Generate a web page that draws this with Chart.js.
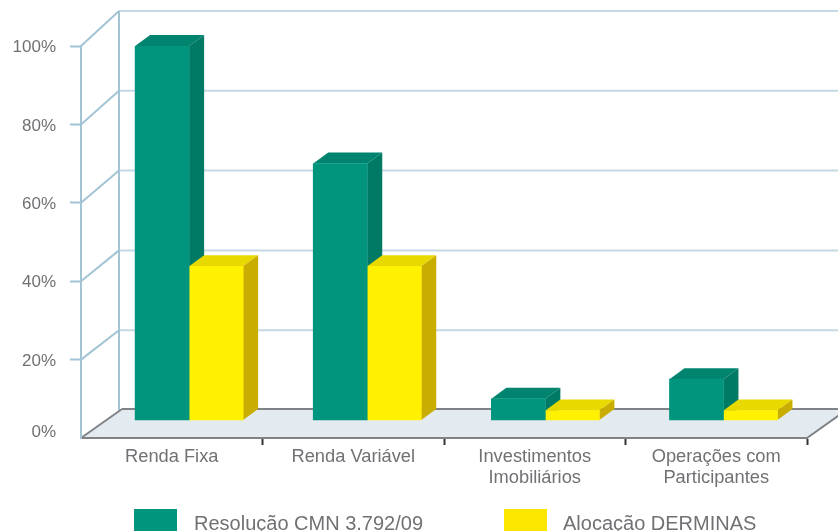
<!DOCTYPE html>
<html>
<head>
<meta charset="utf-8">
<style>
  html, body { margin: 0; padding: 0; background: #fff; overflow: hidden; }
  canvas { display: block; }
</style>
<script src="https://cdn.jsdelivr.net/npm/chart.js@4"></script>
</head>
<body>
<canvas id="chart" width="838" height="531"></canvas>
<script>
// ------------------ Data ------------------
const categories = ["Renda Fixa", "Renda Variável", ["Investimentos", "Imobiliários"], ["Operações com", "Participantes"]];
const seriesNames = ["Resolução CMN 3.792/09", "Alocação DERMINAS"];
const resolucao = [100, 70, 10, 15];
const alocacao = [43.8, 43.8, 7, 7];
const yTicks = [0, 20, 40, 60, 80, 100];
const floorValue = 4.6; // bars stand on the floor, a bit above the front axis line

// ------------------ Look ------------------
const FONT = '"Liberation Sans", Arial, sans-serif';
const TEXT = "#707174";
const WALL = "#a3c4d4";
const GRID = "#c5d8e3";
const GREY = "#808285";
const DEPTH_X = 15, DEPTH_Y = 11;         // bar depth
const WALL_X = 38;                        // front axis -> back wall
const BACK_BOTTOM = 410, BACK_STEP = 3.99; // back wall is slightly taller than the front axis
const green = { front: "#00957c", top: "#00836f", side: "#007a65", legend: "#00957c" };
const yellow = { front: "#fff100", top: "#e8d900", side: "#c9ad00", legend: "#fde600" };

function poly(ctx, pts, fill) {
  ctx.beginPath();
  pts.forEach((p, i) => i ? ctx.lineTo(p[0], p[1]) : ctx.moveTo(p[0], p[1]));
  ctx.closePath();
  ctx.fillStyle = fill;
  ctx.fill();
}

function line(ctx, x1, y1, x2, y2, color, width) {
  ctx.beginPath();
  ctx.moveTo(x1, y1);
  ctx.lineTo(x2, y2);
  ctx.strokeStyle = color;
  ctx.lineWidth = width;
  ctx.stroke();
}

// ------------------ 3D plugin ------------------
const depthPlugin = {
  id: "depth",
  beforeDraw(chart) {
    const ctx = chart.ctx;
    const { left, right, bottom } = chart.chartArea;
    const y = chart.scales.y;
    ctx.save();

    // back wall and side wall
    yTicks.forEach(v => {
      const by = BACK_BOTTOM - v * BACK_STEP;
      if (v > 0) {
        line(ctx, left + WALL_X, by, chart.width, by, GRID, 2);
        line(ctx, left, y.getPixelForValue(v), left + WALL_X, by, WALL, 2);
      }
    });
    line(ctx, left + WALL_X, BACK_BOTTOM - 100 * BACK_STEP, left + WALL_X, BACK_BOTTOM, WALL, 2);

    // floor
    poly(ctx, [[left, bottom], [left + 41, 409], [right + 41, 409], [right, bottom]], "#e3ebf1");
    line(ctx, left + 41, 409, chart.width, 409, GREY, 2);
    line(ctx, left, bottom, left + 41, 409, GREY, 2);
    line(ctx, right, bottom, right + 41, 409, GREY, 2);
    ctx.restore();

    // tick labels sit a bit below their ticks in the original, the 0% one above
    y.getLabelItems().forEach(it => {
      const shift = it.label === "0%" ? -6 : 1.5;
      it.options.translation = [it.options.translation[0], it.options.translation[1] + shift];
    });
  },
  beforeDatasetsDraw(chart) {
    const ctx = chart.ctx;
    const looks = [green, yellow];
    ctx.save();
    // green first so the yellow tops cover the green sides
    looks.forEach((c, d) => {
      chart.getDatasetMeta(d).data.forEach(bar => {
        const l = bar.x - bar.width / 2, r = bar.x + bar.width / 2;
        const t = bar.y, b = bar.base;
        poly(ctx, [[l, t], [l + DEPTH_X, t - DEPTH_Y], [r + DEPTH_X, t - DEPTH_Y], [r, t]], c.top);
        poly(ctx, [[r, t], [r + DEPTH_X, t - DEPTH_Y], [r + DEPTH_X, b - DEPTH_Y], [r, b]], c.side);
      });
    });
    ctx.restore();
  },
  afterDraw(chart) {
    // legend
    const ctx = chart.ctx;
    const items = [
      { box: 134, text: 194, c: green },
      { box: 504, text: 563, c: yellow }
    ];
    ctx.save();
    ctx.font = "20px " + FONT;
    ctx.textBaseline = "alphabetic";
    items.forEach((it, i) => {
      ctx.fillStyle = it.c.legend;
      ctx.fillRect(it.box, 509, 43, 22);
      ctx.fillStyle = TEXT;
      ctx.fillText(seriesNames[i], it.text, 530);
    });
    ctx.restore();
  }
};

// ------------------ Chart ------------------
new Chart(document.getElementById("chart").getContext("2d"), {
  type: "bar",
  plugins: [depthPlugin],
  data: {
    labels: categories,
    datasets: [
      {
        label: seriesNames[0],
        xAxisID: "xBars",
        data: resolucao.map((v, i) => ({ x: i, y: [floorValue, v] })),
        backgroundColor: green.front,
        borderWidth: 0,
        barThickness: 54
      },
      {
        label: seriesNames[1],
        xAxisID: "xBars",
        data: alocacao.map((v, i) => ({ x: i, y: [floorValue, v] })),
        backgroundColor: yellow.front,
        borderWidth: 0,
        barThickness: 54
      }
    ]
  },
  options: {
    responsive: false,
    animation: false,
    layout: { padding: { top: 46, right: 31, left: 0, bottom: 0 } },
    plugins: { legend: { display: false }, tooltip: { enabled: false } },
    scales: {
      // the bar groups are spaced a little tighter than the category ticks
      xBars: {
        type: "linear",
        axis: "x",
        display: false,
        offset: false,
        min: -0.607,
        max: 3.469
      },
      x: {
        type: "category",
        offset: true,
        afterFit(s) { s.height = 93; },
        border: { color: GREY, width: 2 },
        grid: {
          offset: true,
          drawOnChartArea: false,
          tickLength: 7,
          tickWidth: 2,
          tickColor: c => c.index === 0 ? "transparent" : "#333333"
        },
        ticks: {
          color: TEXT,
          maxRotation: 0,
          autoSkip: false,
          padding: 2,
          font: { family: FONT, size: 18.3, lineHeight: 1.12 }
        }
      },
      y: {
        min: 0,
        max: 100,
        afterFit(s) { s.width = 81; },
        border: { color: WALL, width: 2 },
        grid: {
          drawOnChartArea: false,
          tickLength: 11,
          tickWidth: 2,
          tickColor: c => c.tick && c.tick.value === 0 ? "transparent" : WALL
        },
        ticks: {
          stepSize: 20,
          color: TEXT,
          padding: 14,
          font: { family: FONT, size: 17 },
          callback: v => v + "%"
        }
      }
    }
  }
});
</script>
</body>
</html>
